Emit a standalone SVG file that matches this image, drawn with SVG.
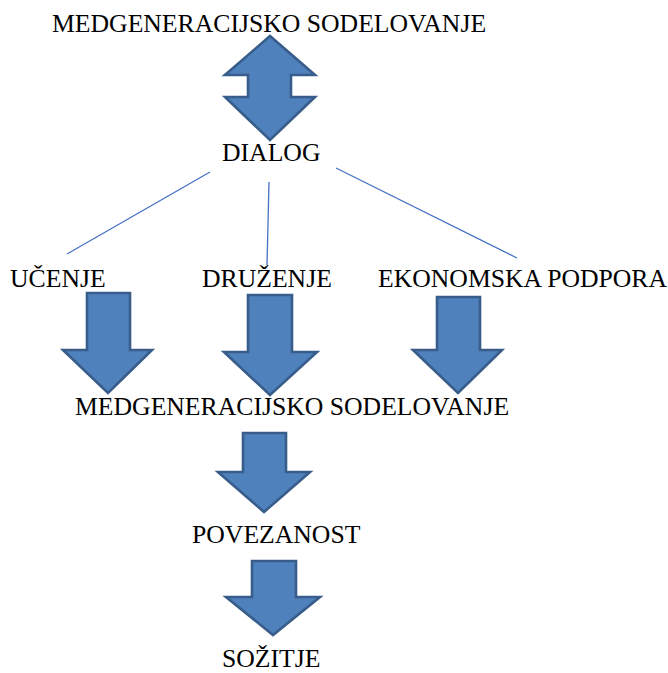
<svg xmlns="http://www.w3.org/2000/svg" width="668" height="673" viewBox="0 0 668 673">
<style>
  text { font-family: "Liberation Serif", "Times New Roman", serif; font-size: 25.7px; fill: #000; }
  .arrow { fill: #4F81BD; stroke: #385D8A; stroke-width: 2.6; stroke-linejoin: miter; }
  .conn { stroke: #4472C4; stroke-width: 1.3; fill: none; }
</style>
<rect width="668" height="673" fill="#fff"/>
<g id="connectors">
  <line class="conn" x1="210" y1="172" x2="67" y2="254"/>
  <line class="conn" x1="269" y1="182" x2="267" y2="265"/>
  <line class="conn" x1="336" y1="168" x2="517" y2="258"/>
</g>
<g id="arrows">
  <polygon id="arrow-updown" class="arrow" points="270,36 315,75 291,75 291,97 315,97 270,140 225,97 248,97 248,75 225,75"/>
  <polygon id="arrow-ucenje" class="arrow" points="87,293 130,293 130,350 152,350 108,393 63,350 87,350"/>
  <polygon id="arrow-druzenje" class="arrow" points="248,295 292,295 292,352 317,352 270,395 224,352 248,352"/>
  <polygon id="arrow-ekonomska" class="arrow" points="437,297 480,297 480,350 502,350 458,393 413,350 437,350"/>
  <polygon id="arrow-medgen2" class="arrow" points="243,433 286,433 286,472 310,472 264,512 218,472 243,472"/>
  <polygon id="arrow-povezanost" class="arrow" points="252,561 296,561 296,597 320,597 273,635 226,597 252,597"/>
</g>
<g id="node-medgen-top"><text x="52" y="32">MEDGENERACIJSKO SODELOVANJE</text></g>
<g id="node-dialog"><text x="222" y="161">DIALOG</text></g>
<g id="node-ucenje"><text x="10" y="287">UČENJE</text></g>
<g id="node-druzenje"><text x="202" y="287">DRUŽENJE</text></g>
<g id="node-ekonomska"><text x="378" y="287">EKONOMSKA PODPORA</text></g>
<g id="node-medgen-mid"><text x="75" y="415">MEDGENERACIJSKO SODELOVANJE</text></g>
<g id="node-povezanost"><text x="192" y="543">POVEZANOST</text></g>
<g id="node-sozitje"><text x="222" y="667">SOŽITJE</text></g>
</svg>
